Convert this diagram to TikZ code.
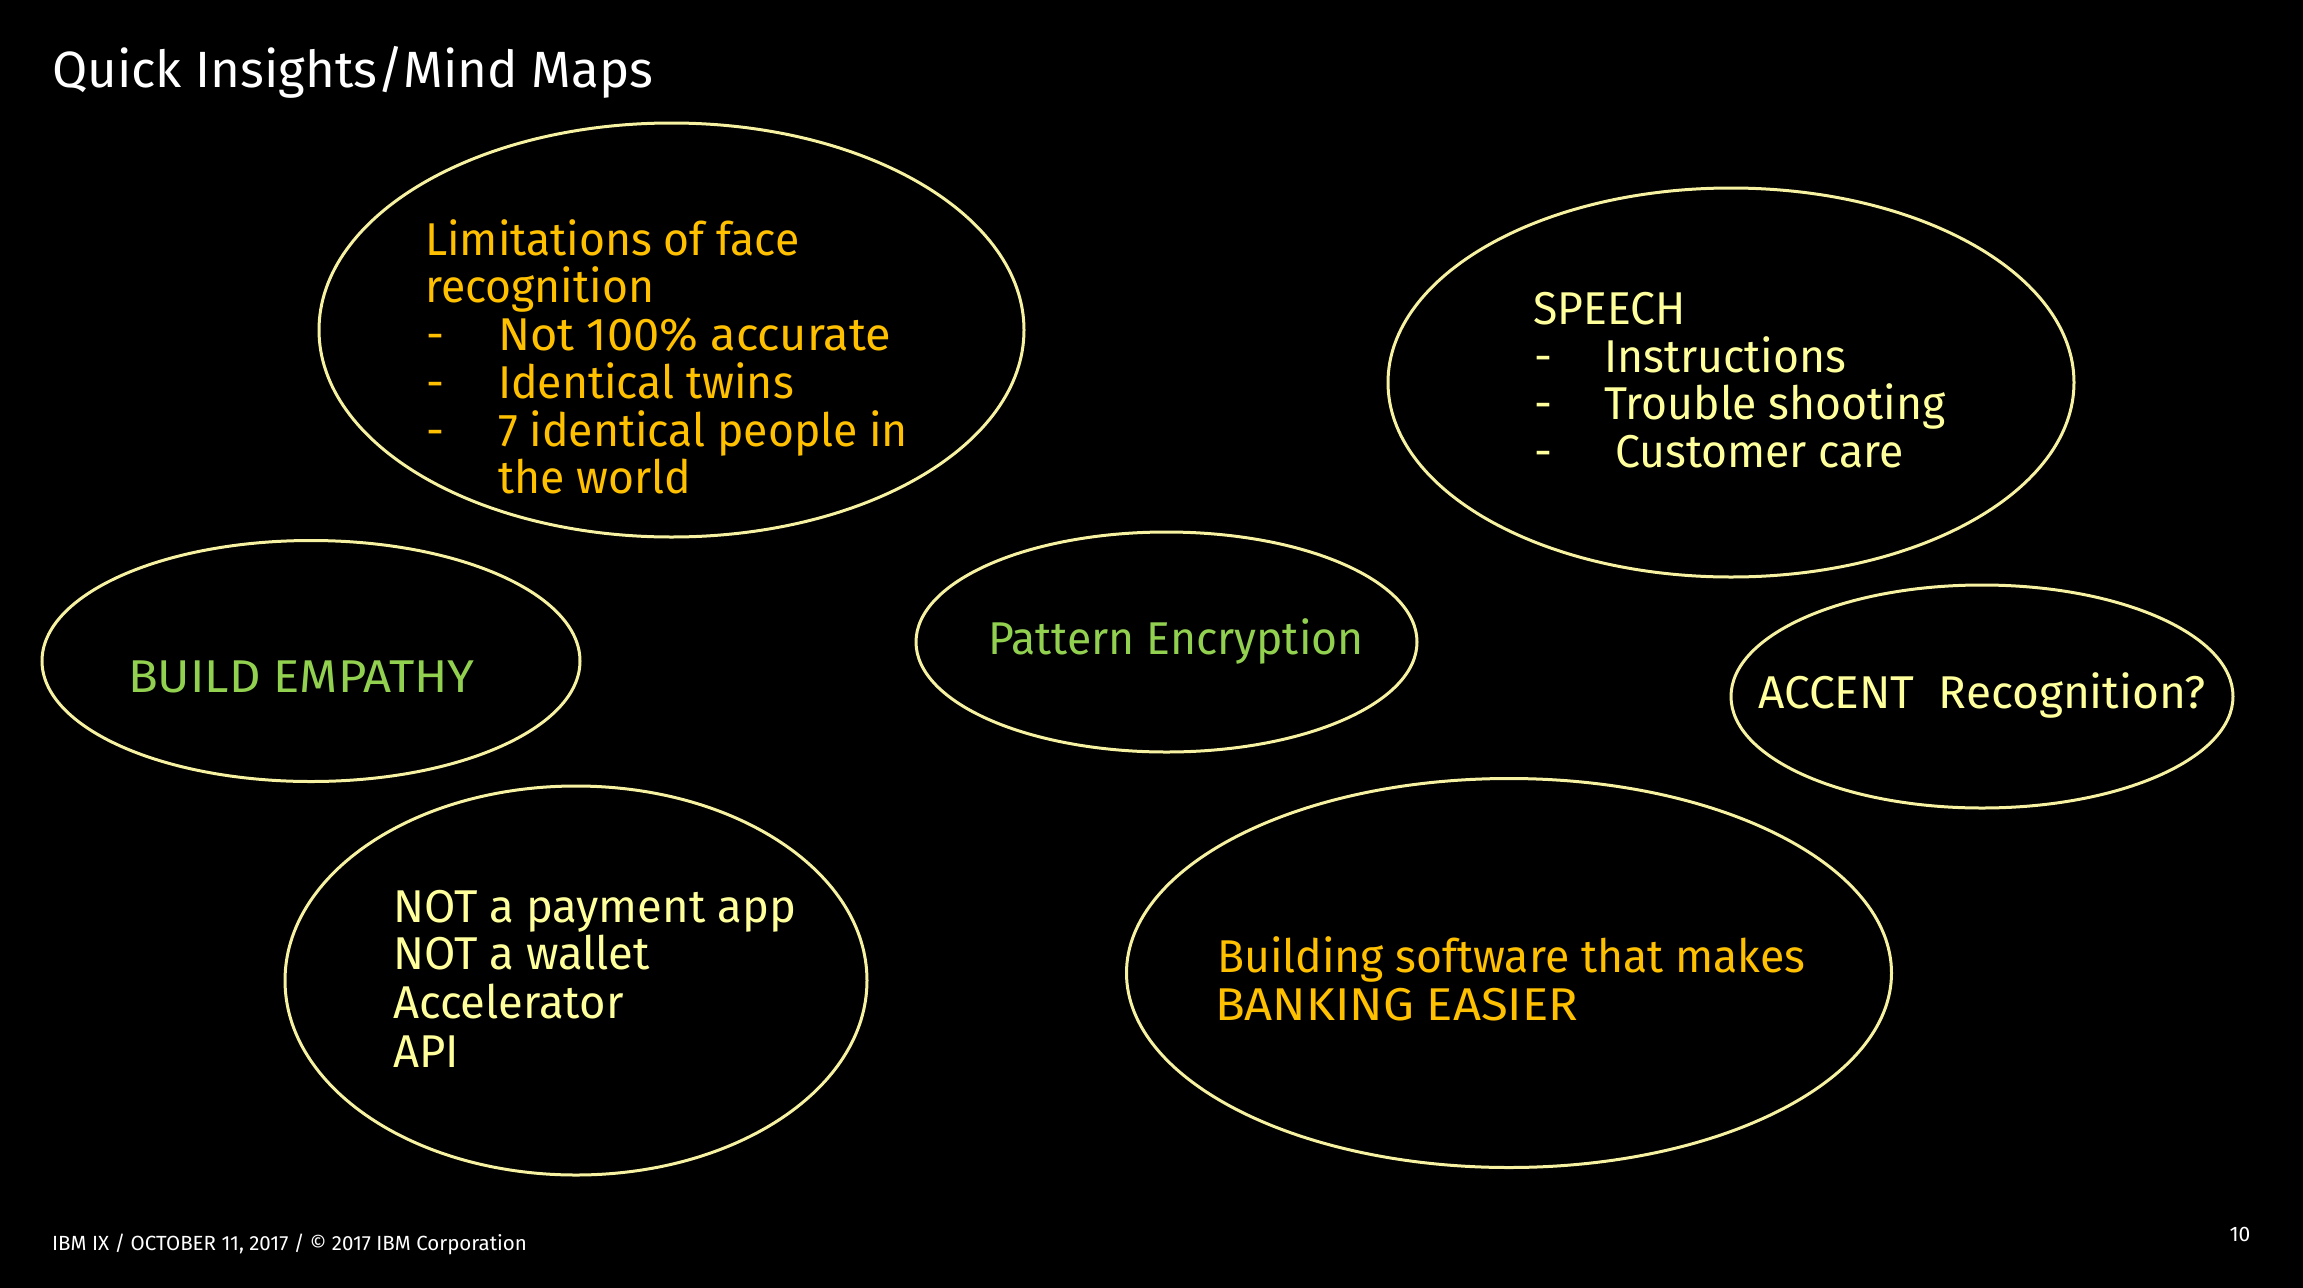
\documentclass[tikz,border=0pt]{standalone}
\usepackage{fontspec}
\setmainfont{Fira Sans}[FakeStretch=0.968]
\newfontfamily\plainfont{Fira Sans}
\newfontfamily\capsfont{Fira Sans}[FakeStretch=1.065]
\newfontfamily\midfont{Fira Sans}[FakeStretch=0.986]
\newfontfamily\digfont{Fira Sans}[FakeStretch=1.02]
\usetikzlibrary{shapes.geometric}
\definecolor{gold}{HTML}{FFC000}
\definecolor{lgreen}{HTML}{92D050}
\definecolor{lyel}{HTML}{FFFF9C}
\definecolor{ring}{HTML}{F6F2A2}
\begin{document}
\begin{tikzpicture}[x=1pt,y=-1pt,
  bubble/.style={draw=ring, line width=3pt, ellipse, inner sep=0pt},
  ln/.style={anchor=base west, inner sep=0pt, font=\fontsize{46}{48}\selectfont},
  small/.style={inner sep=0pt, font=\plainfont\fontsize{20.5}{22}\selectfont, text=white}]
\fill[black] (0,0) rectangle (2303,1288);
\useasboundingbox (0,0) rectangle (2303,1288);

% title
\node[ln, text=white, font=\plainfont\fontsize{51}{54}\selectfont] (title) at (52,87) {Quick Insights/Mind Maps};

% bubbles
\node[bubble, minimum width=705pt, minimum height=414pt] (face) at (671.5,330) {};
\node[bubble, minimum width=686pt, minimum height=389pt] (speech) at (1731,382.5) {};
\node[bubble, minimum width=538pt, minimum height=241pt] (empathy) at (311,661) {};
\node[bubble, minimum width=501pt, minimum height=220pt] (pattern) at (1166.5,642) {};
\node[bubble, minimum width=502pt, minimum height=223pt] (accent) at (1982,696.5) {};
\node[bubble, minimum width=582pt, minimum height=389pt] (payment) at (576,980.5) {};
\node[bubble, minimum width=765pt, minimum height=389pt] (banking) at (1509,973) {};

% face recognition
\begin{scope}[every node/.style={ln, text=gold}]
\node (f1) at (425,255) {Limitations of face};
\node (f2) at (425,302) {recognition};
\node (fd1) at (426,350) {-};
\node (fd2) at (426,398) {-};
\node (fd3) at (426,446) {-};
\node[font=\digfont\fontsize{46}{48}\selectfont] (f3) at (498,350) {Not 100\% accurate};
\node (f4) at (498,398) {Identical twins};
\node (f5) at (498,446) {7 identical people in};
\node (f6) at (498,493) {the world};
\end{scope}

% speech
\begin{scope}[every node/.style={ln, text=lyel}]
\node (s1) at (1533,324) {SPEECH};
\node (sd1) at (1534,372) {-};
\node (sd2) at (1534,419) {-};
\node (sd3) at (1534,467) {-};
\node (s2) at (1604,372) {Instructions};
\node (s3) at (1604,419) {Trouble shooting};
\node (s4) at (1615,467) {Customer care};
\end{scope}

\node[ln, text=lgreen, font=\capsfont\fontsize{46}{48}\selectfont] (e1) at (128,692) {BUILD EMPATHY};
\node[ln, text=lgreen] (p1) at (988,654) {Pattern Encryption};
\node[ln, text=lyel, font=\plainfont\fontsize{46}{48}\selectfont] (a1) at (1758,708) {ACCENT\ \ Recognition?};

\begin{scope}[every node/.style={ln, text=lyel, font=\midfont\fontsize{46}{48}\selectfont}]
\node (n1) at (393,922) {NOT a payment app};
\node (n2) at (393,969) {NOT a wallet};
\node (n3) at (393,1018) {Accelerator};
\node (n4) at (393,1067) {API};
\end{scope}

\begin{scope}[every node/.style={ln, text=gold}]
\node (b1) at (1217,972) {Building software that makes};
\node[font=\capsfont\fontsize{46}{48}\selectfont] (b2) at (1215,1020) {BANKING EASIER};
\end{scope}

\node[small, anchor=base west] (foot) at (52,1250) {IBM IX / OCTOBER 11, 2017 / © 2017 IBM Corporation};
\node[small, anchor=base, font=\plainfont\fontsize{21}{23}\selectfont] (page) at (2240,1241) {10};
\end{tikzpicture}
\end{document}
